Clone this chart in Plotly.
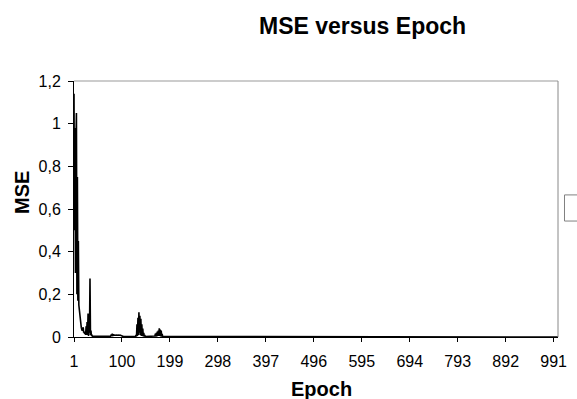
import plotly.graph_objects as go

# ---- data ----
n_epochs = 1000
epochs = list(range(1, n_epochs + 1))

# MSE for epochs 1..190 (after that the curve stays on the zero line)
mse_head = [
    1.14, 0.50, 0.98, 0.30, 0.90, 1.05, 0.20, 0.75, 0.17, 0.45,
    0.15, 0.12, 0.09, 0.07, 0.055, 0.045, 0.035, 0.03, 0.04, 0.045,
    0.02, 0.025, 0.015, 0.02, 0.01, 0.05, 0.01, 0.07, 0.01, 0.11,
    0.005, 0.10, 0.02, 0.274, 0.01, 0.03, 0.005, 0.008, 0.004, 0.004,
    0.003, 0.002, 0.003, 0.002, 0.002, 0.003, 0.002, 0.002, 0.002, 0.002,
    0.002, 0.002, 0.002, 0.002, 0.002, 0.002, 0.002, 0.002, 0.002, 0.002,
    0.002, 0.002, 0.002, 0.002, 0.002, 0.002, 0.002, 0.002, 0.002, 0.002,
    0.002, 0.002, 0.002, 0.002, 0.002, 0.003, 0.006, 0.012, 0.003, 0.016,
    0.004, 0.012, 0.008, 0.009, 0.008, 0.010, 0.008, 0.009, 0.008, 0.009,
    0.008, 0.009, 0.008, 0.009, 0.008, 0.009, 0.008, 0.006, 0.004, 0.002,
    0.002, 0.002, 0.002, 0.002, 0.002, 0.002, 0.002, 0.002, 0.002, 0.002,
    0.002, 0.002, 0.002, 0.002, 0.002, 0.002, 0.002, 0.002, 0.002, 0.002,
    0.002, 0.002, 0.002, 0.002, 0.002, 0.002, 0.002, 0.002, 0.010, 0.002,
    0.060, 0.005, 0.090, 0.010, 0.116, 0.020, 0.100, 0.010, 0.085, 0.005,
    0.060, 0.005, 0.040, 0.003, 0.020, 0.002, 0.010, 0.002, 0.002, 0.002,
    0.002, 0.002, 0.002, 0.002, 0.002, 0.002, 0.002, 0.002, 0.002, 0.002,
    0.002, 0.002, 0.002, 0.002, 0.002, 0.002, 0.002, 0.005, 0.015, 0.002,
    0.020, 0.003, 0.025, 0.005, 0.030, 0.005, 0.041, 0.005, 0.035, 0.003,
    0.030, 0.002, 0.015, 0.002, 0.002, 0.001, 0.001, 0.001, 0.001, 0.001,
]
mse_tail = [0.0] * (n_epochs - len(mse_head))
mse = mse_head + mse_tail

x_tick_vals = [1, 100, 199, 298, 397, 496, 595, 694, 793, 892, 991]
x_tick_text = ["1", "100", "199", "298", "397", "496", "595", "694", "793", "892", "991"]
y_tick_vals = [0, 0.2, 0.4, 0.6, 0.8, 1.0, 1.2]
y_tick_text = ["0", "0,2", "0,4", "0,6", "0,8", "1", "1,2"]

title_text = "MSE versus Epoch"
x_title = "Epoch"
y_title = "MSE"

FONT = "Liberation Sans, Arial, sans-serif"

fig = go.Figure()
fig.add_trace(go.Scatter(
    x=epochs, y=mse, mode="lines",
    line=dict(color="black", width=1.6),
    showlegend=False, hoverinfo="skip",
))

fig.update_layout(
    width=577, height=399,
    margin=dict(l=74, r=10, t=81, b=62),
    paper_bgcolor="white", plot_bgcolor="white",
    font=dict(family=FONT, color="black", size=16),
    showlegend=False,
    xaxis=dict(
        range=[1, 1000], tickmode="array", tickvals=x_tick_vals, ticktext=x_tick_text,
        ticks="outside", ticklen=4, tickcolor="black", tickwidth=1,
        showline=True, linecolor="black", linewidth=1,
        showgrid=False, zeroline=False,
        tickfont=dict(size=16, family=FONT), ticklabelstandoff=6,
    ),
    xaxis2=dict(
        overlaying="x", anchor="y", side="bottom",
        range=[1, 1000], tickmode="array", tickvals=x_tick_vals,
        ticks="inside", ticklen=4, tickcolor="black", tickwidth=1,
        showticklabels=False, showline=False, showgrid=False, zeroline=False,
    ),
    yaxis=dict(
        range=[0, 1.2], tickmode="array", tickvals=y_tick_vals, ticktext=y_tick_text,
        ticks="outside", ticklen=5, tickcolor="black", tickwidth=1,
        showline=True, linecolor="black", linewidth=1,
        showgrid=False, zeroline=False,
        tickfont=dict(size=16, family=FONT), ticklabelstandoff=4,
    ),
    shapes=[
        dict(type="line", xref="paper", yref="paper", x0=0, x1=1, y0=1, y1=1,
             line=dict(color="#999999", width=1)),
        dict(type="line", xref="paper", yref="paper", x0=1, x1=1, y0=0, y1=1,
             line=dict(color="#888888", width=1)),
        dict(type="rect", xref="paper", yref="paper", x0=1.0134, x1=1.2, y0=0.453, y1=0.555,
             line=dict(color="#808080", width=1), fillcolor="white"),
    ],
    annotations=[
        dict(text="<b>" + title_text + "</b>", xref="paper", yref="paper",
             x=(368 - 74) / 493, y=(337 - 25.5) / 256, xanchor="center", yanchor="middle",
             showarrow=False, font=dict(size=23, family=FONT, color="black")),
        dict(text="<b>" + x_title + "</b>", xref="paper", yref="paper",
             x=(326 - 74) / 493, y=(337 - 389) / 256, xanchor="center", yanchor="middle",
             showarrow=False, font=dict(size=20, family=FONT, color="black")),
        dict(text="<b>" + y_title + "</b>", xref="paper", yref="paper",
             x=(20.5 - 74) / 493, y=(337 - 192.5) / 256, xanchor="center", yanchor="middle",
             textangle=-90, showarrow=False, font=dict(size=20, family=FONT, color="black")),
    ],
)

fig.write_html("out.html")
